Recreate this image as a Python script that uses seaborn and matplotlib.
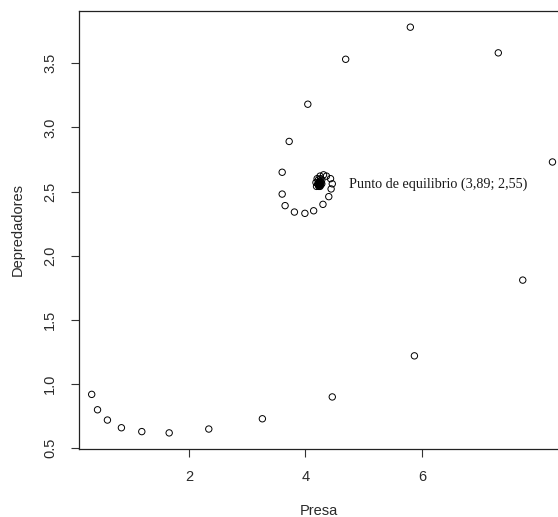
import numpy as np
import pandas as pd
import matplotlib
matplotlib.use("Agg")
import matplotlib.pyplot as plt
import seaborn as sns

# Trajectory points (prey, predators)
presa = [0.33, 0.43, 0.60, 0.84, 1.19, 1.66, 2.34, 3.26, 4.46, 5.87,
         7.73, 8.24, 7.31, 5.80, 4.69, 4.04, 3.72, 3.60, 3.60, 3.65,
         3.81, 3.99, 4.14, 4.30, 4.40, 4.44, 4.46, 4.43, 4.36, 4.31,
         4.25, 4.20, 4.18, 4.19, 4.25, 4.28, 4.28, 4.26, 4.22, 4.21,
         4.23, 4.26, 4.27, 4.25, 4.23, 4.22, 4.24, 4.25, 4.24, 4.23]
depredadores = [0.92, 0.80, 0.72, 0.66, 0.63, 0.62, 0.65, 0.73, 0.90, 1.22,
                1.81, 2.73, 3.58, 3.78, 3.53, 3.18, 2.89, 2.65, 2.48, 2.39,
                2.34, 2.33, 2.35, 2.40, 2.46, 2.52, 2.56, 2.60, 2.62, 2.63,
                2.62, 2.60, 2.57, 2.54, 2.54, 2.56, 2.59, 2.60, 2.59, 2.56,
                2.54, 2.55, 2.57, 2.58, 2.57, 2.55, 2.55, 2.56, 2.57, 2.56]

x_ticks = [2, 4, 6]
y_ticks = [0.5, 1.0, 1.5, 2.0, 2.5, 3.0, 3.5]
etiqueta = "Punto de equilibrio (3,89; 2,55)"
etiqueta_pos = (4.47, 2.56)

df = pd.DataFrame({"Presa": presa, "Depredadores": depredadores})

sns.set_style("white")
plt.rcParams["font.family"] = ["Liberation Sans", "DejaVu Sans"]

fig = plt.figure(figsize=(5.58, 5.17), dpi=100)
ax = fig.add_axes([79 / 558, 1 - 449 / 517, 1 - 79 / 558, (449 - 11) / 517])

sns.scatterplot(data=df, x="Presa", y="Depredadores", ax=ax,
                marker="o", s=21, facecolor="none", edgecolor="black",
                linewidth=0.7, legend=False)

ax.set_xlim(0.112, 8.335)
ax.set_ylim(0.4945, 3.906)
ax.set_xticks(x_ticks)
ax.set_xticklabels([str(v) for v in x_ticks])
ax.set_yticks(y_ticks)
ax.set_yticklabels([f"{v:.1f}" for v in y_ticks], rotation=90, va="center")

txtcol = "#2a2a2a"
ax.tick_params(axis="both", which="major", direction="out", length=5.8,
               width=0.8, color="#333333", labelsize=10.5, labelcolor=txtcol,
               bottom=True, left=True)
ax.tick_params(axis="y", pad=10)
ax.tick_params(axis="x", pad=9)

for side in ["left", "bottom", "top"]:
    ax.spines[side].set_visible(True)
    ax.spines[side].set_color("#222222")
    ax.spines[side].set_linewidth(0.9)
ax.spines["right"].set_visible(False)

ax.set_xlabel("Presa", fontsize=10.5, color=txtcol, labelpad=15)
ax.set_ylabel("Depredadores", fontsize=10.5, color=txtcol, labelpad=13)

ax.text(etiqueta_pos[0] + 0.28, etiqueta_pos[1], etiqueta,
        family=["Liberation Serif", "DejaVu Serif"], fontsize=10.2,
        color="#1a1a1a", va="center", ha="left")

fig.savefig("out.png", dpi=100, facecolor="white")
